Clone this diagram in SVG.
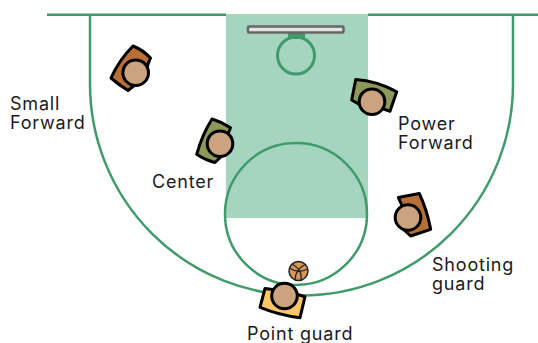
<svg xmlns="http://www.w3.org/2000/svg" width="538" height="343" viewBox="0 0 538 343">
<style>
.line{fill:none;stroke:#419a6c;stroke-width:2.5}
.rim{stroke-width:3}
.t{font-family:"Inter","Noto Sans",sans-serif;font-size:18px;letter-spacing:.8px;fill:#1a1a1a}
.body{stroke:#000;stroke-width:3;stroke-linejoin:round}
.head{fill:#cba37f;stroke:#000;stroke-width:3}
.green{fill:#8b9a58}.brown{fill:#b96f37}.yellow{fill:#fdc766}
</style>
<rect x="226" y="14" width="142" height="204" fill="#a6d5bf"/>
<g id="connectors">
<path class="line" d="M47,14.700 H226 M368,14.700 H538"/>
<path class="line" d="M90,15 V84 A211.500,211.500 0 0 0 513,84 V15"/>
<circle class="line" cx="296" cy="214" r="71"/>
<circle class="line rim" cx="296" cy="55.500" r="18.500"/>
<rect x="288" y="33" width="17" height="6" fill="#419a6c"/>
<rect x="248" y="26.500" width="95.500" height="6" rx="1" fill="#e3e3e3" stroke="#666" stroke-width="2.500"/>
</g>
<g id="ball">
<circle cx="298.500" cy="271" r="9.500" fill="#d7965a" stroke="#222" stroke-width="1.500"/>
<path d="M289.500,268 Q298,274 307.500,269 M292,264 Q303,270 301,280 M305,264.500 Q295,270 295,280" fill="none" stroke="#222" stroke-width="1.300"/>
</g>
<g id="small-forward">
<path class="body brown" d="M133,46 Q143,50 150.500,58 L148,64 L146,76 L128,90.500 Q119,85 111,78 Q119,60 133,46Z"/>
<circle class="head" cx="135.700" cy="72.700" r="12.800"/>
<text class="t"><tspan x="10" y="109.500">Small</tspan><tspan x="10" y="128.500">Forward</tspan></text>
</g>
<g id="center">
<path class="body green" d="M212,119 Q222,122 230.500,127.700 L228,134 L228,150 L215,162.500 Q205,160 196.700,154.300 Q202,135 212,119Z"/>
<circle class="head" cx="220" cy="143.700" r="12.800"/>
<text class="t" x="152" y="188">Center</text>
</g>
<g id="power-forward">
<path class="body green" d="M355.700,79.500 Q377,81 396.700,91.700 L390,111.300 L381,108 L362,106 L351.700,100 Z"/>
<circle class="head" cx="372" cy="101.700" r="12.800"/>
<text class="t"><tspan x="398" y="130">Power</tspan><tspan x="398" y="149">Forward</tspan></text>
</g>
<g id="shooting-guard">
<path class="body brown" d="M398.300,197.500 L419.300,193.500 Q427,210 430.700,229.300 L410.700,236 L404,230 L401.700,205Z"/>
<circle class="head" cx="408" cy="217.500" r="12.800"/>
<text class="t"><tspan x="432" y="270.500">Shooting</tspan><tspan x="432" y="289.500">guard</tspan></text>
</g>
<g id="point-guard">
<path class="body yellow" d="M265,288.500 L276,290 L296,294 L305,296.700 L300,317.700 Q279,315 260,307.300 Z"/>
<circle class="head" cx="284.500" cy="296" r="12.800"/>
<text class="t" x="247" y="340">Point guard</text>
</g>
</svg>
